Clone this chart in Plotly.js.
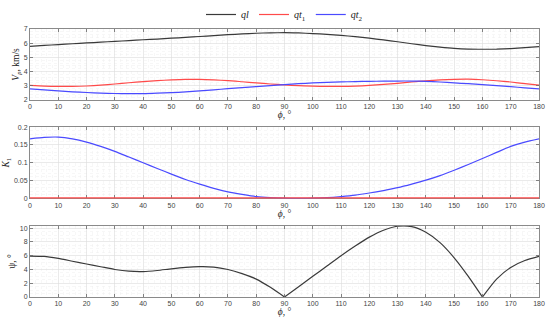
<!DOCTYPE html>
<html>
<head>
<meta charset="utf-8">
<script src="https://cdn.plot.ly/plotly-3.0.1.min.js"></script>
<style>html,body{margin:0;padding:0;background:#fff;}#chart{width:550px;height:321px;}</style>
</head>
<body>
<div id="chart"></div>
<script>
// Angle phi, degrees
const phi = [0,5,10,15,20,25,30,35,40,45,50,55,60,65,70,75,80,85,90,95,100,105,110,115,120,125,130,135,140,145,150,155,160,165,170,175,180];

// Phase velocities, km/s
const vQl  = [5.78,5.84,5.90,5.96,6.02,6.07,6.13,6.18,6.24,6.29,6.35,6.41,6.47,6.53,6.60,6.65,6.70,6.73,6.74,6.72,6.68,6.62,6.55,6.46,6.35,6.23,6.10,5.96,5.83,5.72,5.63,5.58,5.57,5.58,5.62,5.68,5.75];
const vQt1 = [3.02,2.97,2.95,2.95,2.98,3.04,3.12,3.21,3.29,3.36,3.41,3.44,3.44,3.41,3.36,3.28,3.20,3.12,3.06,3.00,2.97,2.95,2.95,2.97,3.02,3.09,3.17,3.26,3.34,3.41,3.45,3.46,3.42,3.35,3.26,3.15,3.04];
const vQt2 = [2.77,2.70,2.63,2.57,2.52,2.48,2.45,2.44,2.44,2.47,2.51,2.56,2.63,2.71,2.79,2.87,2.94,3.01,3.08,3.14,3.20,3.24,3.27,3.29,3.31,3.32,3.33,3.33,3.31,3.26,3.20,3.14,3.07,3.00,2.93,2.85,2.77];

// Coupling coefficient K1
const kQt1 = [0,0,0,0,0,0,0,0,0,0,0,0,0,0,0,0,0,0,0,0,0,0,0,0,0,0,0,0,0,0,0,0,0,0,0,0,0];
const kQt2 = [0.167,0.171,0.172,0.167,0.158,0.146,0.132,0.116,0.100,0.084,0.068,0.053,0.040,0.028,0.018,0.011,0.005,0.002,0.0005,0,0.0005,0.002,0.005,0.009,0.015,0.022,0.030,0.040,0.051,0.064,0.079,0.095,0.112,0.129,0.146,0.158,0.167];

// Deviation angle psi, degrees
const psi = [5.95,5.90,5.60,5.20,4.80,4.40,4.00,3.75,3.70,3.85,4.10,4.30,4.40,4.35,4.00,3.40,2.60,1.40,0,1.50,3.00,4.50,6.00,7.40,8.70,9.70,10.28,10.22,9.40,7.90,5.70,3.00,0,2.60,4.30,5.30,5.90];

// legend names and axis titles
const names = ['<i>ql</i>', '<i>qt</i><sub>1</sub>', '<i>qt</i><sub>2</sub>'];
const xTitle = '<i>ϕ</i>, °';
const yTitles = ['<i>V</i><sub><i>p</i></sub>, km/s', '<i>K</i><sub>1</sub>', 'ψ, °'];

const cBlack = '#3a3a3a', cRed = '#ff4a4a', cBlue = '#4a4aff';
const lw = 1.2;

const traces = [
  {x: phi, y: vQl,  name: names[0], mode:'lines', line:{color:cBlack, width:lw, shape:'spline', smoothing:0.6}, xaxis:'x', yaxis:'y'},
  {x: phi, y: vQt1, name: names[1], mode:'lines', line:{color:cRed, width:lw, shape:'spline', smoothing:0.6}, xaxis:'x', yaxis:'y'},
  {x: phi, y: vQt2, name: names[2], mode:'lines', line:{color:cBlue, width:lw, shape:'spline', smoothing:0.6}, xaxis:'x', yaxis:'y'},
  {x: phi, y: kQt2, mode:'lines', showlegend:false, line:{color:cBlue, width:lw, shape:'spline', smoothing:0.6}, xaxis:'x2', yaxis:'y2'},
  {x: phi, y: kQt1, mode:'lines', showlegend:false, line:{color:cRed, width:2.2}, xaxis:'x2', yaxis:'y2'}
];
// psi has cusps at 90 and 160: draw as three smooth segments
const cuts = [[0,18],[18,32],[32,36]];
cuts.forEach(function(c){
  traces.push({x: phi.slice(c[0], c[1]+1), y: psi.slice(c[0], c[1]+1), mode:'lines', showlegend:false,
    line:{color:cBlack, width:lw, shape:'spline', smoothing:0.6}, xaxis:'x3', yaxis:'y3'});
});

const tickFont = {family:'Liberation Sans, Arial, sans-serif', size:7, color:'#444'};
const titleFont = {family:'Liberation Serif, Times New Roman, serif', size:9.5, color:'#222'};

function xax(anchor, layer){
  return {
    anchor: anchor, range:[0,180], tick0:0, dtick:10, ticks:'inside', ticklen:3, tickcolor:'#666', tickwidth:0.8,
    showline:true, linecolor:'#8a8a8a', linewidth:1, mirror:'ticks', showgrid:true, gridcolor:'#dcdcdc', gridwidth:0.6,
    zeroline:false, tickfont:tickFont, automargin:false, layer: layer || 'above traces',
    minor:{dtick:2, showgrid:true, gridcolor:'#efefef', griddash:'dot', gridwidth:0.5},
    title:{text:xTitle, font:titleFont, standoff:1}
  };
}
function yax(anchor, domain, range, dtick, mdtick, title){
  return {
    anchor: anchor, domain: domain, range: range, tick0:0, dtick: dtick, ticks:'inside', ticklen:3, tickcolor:'#666', tickwidth:0.8,
    showline:true, linecolor:'#8a8a8a', linewidth:1, mirror:'ticks', showgrid:true, gridcolor:'#dcdcdc', gridwidth:0.6,
    zeroline:false, tickfont:tickFont, automargin:false,
    minor:{dtick:mdtick, showgrid:true, gridcolor:'#efefef', griddash:'dot', gridwidth:0.5},
    title:{text:title, font:titleFont, standoff:2}
  };
}

const layout = {
  width:550, height:321,
  margin:{l:30, r:11, t:21, b:24},
  paper_bgcolor:'#fff', plot_bgcolor:'#fff',
  showlegend:true,
  legend:{orientation:'h', x:0.5, xanchor:'center', y:1, yanchor:'top', yref:'container',
          font:{family:'Liberation Serif, Times New Roman, serif', size:10, color:'#222'},
          itemwidth:30, tracegroupgap:0, bgcolor:'rgba(0,0,0,0)'},
  xaxis: xax('y'),
  xaxis2: xax('y2', 'below traces'),
  xaxis3: xax('y3'),
  yaxis: yax('x', [0.7355, 1], [2, 7], 1, 0.2, yTitles[0]),
  yaxis2: yax('x2', [0.368, 0.634], [0, 0.2], 0.05, 0.01, yTitles[1]),
  yaxis3: yax('x3', [0, 0.2645], [0, 10.3], 2, 0.5, yTitles[2])
};

Plotly.newPlot('chart', traces, layout, {displayModeBar:false, staticPlot:true});
</script>
</body>
</html>
